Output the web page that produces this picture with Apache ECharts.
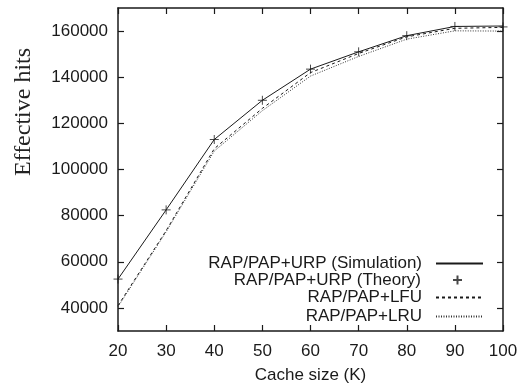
<!DOCTYPE html>
<html>
<head>
<meta charset="utf-8">
<script src="https://cdn.jsdelivr.net/npm/echarts@6/dist/echarts.min.js"></script>
<style>
html,body{margin:0;padding:0;background:#fff;}
#c{width:526px;height:386px;}
</style>
</head>
<body>
<div id="c"></div>
<script>
const cacheSizes = [20, 30, 40, 50, 60, 70, 80, 90, 100];
const simulation = [52500, 82500, 113000, 130000, 143500, 151000, 158000, 162000, 162200];
const theory     = [52500, 82500, 113000, 130000, 143500, 151000, 158000, 162000, 161800];
const lfu        = [41000, 73500, 109000, 126500, 142000, 150300, 157500, 161200, 161600];
const lru        = [40500, 73000, 108000, 125500, 140500, 149000, 156500, 160100, 160000];
const yTicks = [40000, 60000, 80000, 100000, 120000, 140000, 160000];
const xTicks = [20, 30, 40, 50, 60, 70, 80, 90, 100];
const names = ['RAP/PAP+URP (Simulation)', 'RAP/PAP+URP (Theory)', 'RAP/PAP+LFU', 'RAP/PAP+LRU'];

const pairs = arr => cacheSizes.map((x, i) => [x, arr[i]]);
const FONT = 'Liberation Sans';
const FS = 17;
const INK = '#1a1a1a';
const plusPath = 'path://M0,5L10,5M5,0L5,10';

const chart = echarts.init(document.getElementById('c'), null, {renderer: 'canvas'});

const axisCommon = {
  axisLine: {show: true, onZero: false, lineStyle: {color: INK, width: 1.5}},
  axisTick: {show: true, inside: true, length: 6, lineStyle: {color: INK, width: 1.2}},
  splitLine: {show: false}
};

const legendBase = (name, top, right, w, h, padR, hideSymbol) => ({
  data: [name],
  orient: 'vertical',
  align: 'right',
  right: right,
  top: top,
  padding: 0,
  itemWidth: w,
  itemHeight: h,
  selectedMode: false,
  itemStyle: hideSymbol ? {opacity: 0} : {},
  textStyle: {fontFamily: FONT, fontSize: FS, color: INK, padding: [0, padR, 0, 0]}
});

chart.setOption({
  animation: false,
  backgroundColor: '#fff',
  grid: {left: 118, right: 23, top: 8, bottom: 55, containLabel: false, outerBoundsMode: 'none'},
  xAxis: [
    Object.assign({}, axisCommon, {
      type: 'value', min: 20, max: 100, interval: 10, position: 'bottom',
      axisLabel: {show: true, fontFamily: FONT, fontSize: FS, color: INK, margin: 12,
        customValues: xTicks, formatter: v => String(v)},
      axisTick: Object.assign({}, axisCommon.axisTick, {customValues: xTicks}),
      name: 'Cache size (K)', nameLocation: 'middle', nameGap: 36,
      nameTextStyle: {fontFamily: FONT, fontSize: FS, color: INK}
    }),
    Object.assign({}, axisCommon, {
      type: 'value', min: 20, max: 100, interval: 10, position: 'top',
      axisLabel: {show: false},
      axisTick: Object.assign({}, axisCommon.axisTick, {customValues: xTicks})
    })
  ],
  yAxis: [
    Object.assign({}, axisCommon, {
      type: 'value', min: 30000, max: 170000, interval: 10000, position: 'left',
      axisLabel: {show: true, fontFamily: FONT, fontSize: FS, color: INK, margin: 10,
        customValues: yTicks, formatter: v => String(v)},
      axisTick: Object.assign({}, axisCommon.axisTick, {customValues: yTicks})
    }),
    Object.assign({}, axisCommon, {
      type: 'value', min: 30000, max: 170000, interval: 10000, position: 'right',
      axisLabel: {show: false},
      axisTick: Object.assign({}, axisCommon.axisTick, {customValues: yTicks})
    })
  ],
  legend: [
    legendBase(names[0], 255, 42, 47, 14, 9, true),
    legendBase(names[1], 271.5, 61.5, 9, 9, 27, false),
    legendBase(names[2], 289, 42, 47, 14, 9, true),
    legendBase(names[3], 308, 42, 47, 14, 9, true)
  ],
  graphic: [{
    type: 'text',
    x: 24, y: 112,
    rotation: Math.PI / 2,
    style: {text: 'Effective hits', fontFamily: 'Liberation Serif', fontSize: 24,
      fill: '#222', align: 'center', verticalAlign: 'middle'}
  }],
  series: [
    {
      name: names[0], type: 'line', data: pairs(simulation), symbol: 'none',
      clip: false, lineStyle: {color: INK, width: 1}, itemStyle: {color: INK},
      z: 3
    },
    {
      name: names[1], type: 'scatter', data: pairs(theory), symbol: plusPath,
      symbolSize: 9, clip: false,
      itemStyle: {color: 'none', borderColor: INK, borderWidth: 1},
      z: 4
    },
    {
      name: names[2], type: 'line', data: pairs(lfu), symbol: 'none',
      clip: false, lineStyle: {color: INK, width: 1, type: [3, 3]}, itemStyle: {color: INK}
    },
    {
      name: names[3], type: 'line', data: pairs(lru), symbol: 'none',
      clip: false, lineStyle: {color: '#333', width: 1, type: [1, 1.5]}, itemStyle: {color: '#333'}
    }
  ]
});
</script>
</body>
</html>
